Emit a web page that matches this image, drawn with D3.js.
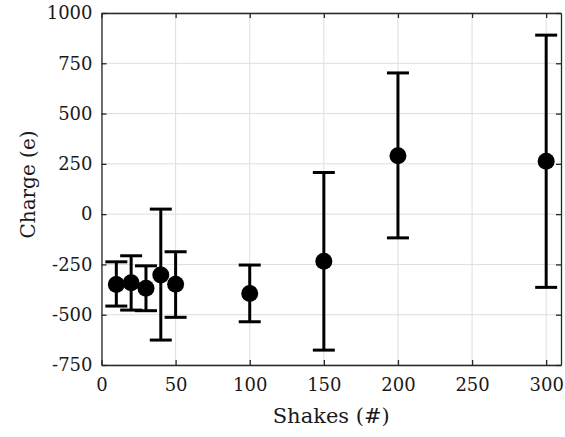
<!DOCTYPE html>
<html>
<head>
<meta charset="utf-8">
<script src="https://cdn.jsdelivr.net/npm/d3@7"></script>
<style>
  body { margin: 0; background: #fff; }
  svg text { font-family: "DejaVu Serif", serif; }
</style>
</head>
<body>
<div id="chart"></div>
<script>
// data
var shakes = [10, 20, 30, 40, 50, 100, 150, 200, 300];
var charge = [-350, -341, -369, -303, -348, -394, -234, 290, 263];
var upper  = [-237, -207, -257, 25, -187, -253, 207, 702, 890];
var lower  = [-457, -477, -480, -626, -513, -535, -676, -118, -364];
var xTicks = [0, 50, 100, 150, 200, 250, 300];
var yTicks = [-750, -500, -250, 0, 250, 500, 750, 1000];

var W = 565, H = 437;
var margin = {top: 13, right: 4, bottom: 72, left: 101.5},
    width = W - margin.left - margin.right,
    height = H - margin.top - margin.bottom;

var svg = d3.select("#chart").append("svg")
  .attr("width", W)
  .attr("height", H);

var g = svg.append("g")
  .attr("transform", `translate(${margin.left}, ${margin.top})`);

var x = d3.scaleLinear().domain([0, 310]).range([0, width]);
var y = d3.scaleLinear().domain([-750, 1000]).range([height, 0]);

var data = shakes.map((s, i) => ({x: s, y: charge[i], hi: upper[i], lo: lower[i]}));

// grid
g.append("g").selectAll("line").data(xTicks).join("line")
  .attr("x1", d => x(d)).attr("x2", d => x(d))
  .attr("y1", 0).attr("y2", height)
  .attr("stroke", "#dedede").attr("stroke-width", 1);
g.append("g").selectAll("line").data(yTicks).join("line")
  .attr("y1", d => y(d)).attr("y2", d => y(d))
  .attr("x1", 0).attr("x2", width)
  .attr("stroke", "#dedede").attr("stroke-width", 1);

// axes (ticks inside, mirrored on top/right)
var tk = 5;
var fmt = d => String(d);
var bottomAxis = d3.axisBottom(x).tickValues(xTicks).tickFormat(fmt).tickSizeInner(-tk).tickSizeOuter(0).tickPadding(13);
var leftAxis = d3.axisLeft(y).tickValues(yTicks).tickFormat(fmt).tickSizeInner(-tk).tickSizeOuter(0).tickPadding(9);
var topAxis = d3.axisTop(x).tickValues(xTicks).tickSizeInner(-tk).tickSizeOuter(0).tickFormat("");
var rightAxis = d3.axisRight(y).tickValues(yTicks).tickSizeInner(-tk).tickSizeOuter(0).tickFormat("");

function styleAxis(sel) {
  sel.attr("font-family", null).attr("font-size", 18);
  sel.select(".domain").attr("stroke", "#262626").attr("stroke-width", 1.3);
  sel.selectAll(".tick line").attr("stroke", "#262626").attr("stroke-width", 1.3);
  sel.selectAll(".tick text").attr("fill", "#1a1a1a");
}

g.append("g").attr("transform", `translate(0, ${height})`).call(bottomAxis).call(styleAxis);
g.append("g").call(leftAxis).call(styleAxis);
g.append("g").call(topAxis).call(styleAxis);
g.append("g").attr("transform", `translate(${width}, 0)`).call(rightAxis).call(styleAxis);

// error bars
var cap = 11;
var bars = g.append("g").selectAll("g").data(data).join("g");
bars.append("line")
  .attr("x1", d => x(d.x)).attr("x2", d => x(d.x))
  .attr("y1", d => y(d.hi)).attr("y2", d => y(d.lo))
  .attr("stroke", "#000").attr("stroke-width", 3);
bars.append("line")
  .attr("x1", d => x(d.x) - cap).attr("x2", d => x(d.x) + cap)
  .attr("y1", d => y(d.hi)).attr("y2", d => y(d.hi))
  .attr("stroke", "#000").attr("stroke-width", 3);
bars.append("line")
  .attr("x1", d => x(d.x) - cap).attr("x2", d => x(d.x) + cap)
  .attr("y1", d => y(d.lo)).attr("y2", d => y(d.lo))
  .attr("stroke", "#000").attr("stroke-width", 3);

// markers
g.append("g").selectAll("circle").data(data).join("circle")
  .attr("cx", d => x(d.x)).attr("cy", d => y(d.y))
  .attr("r", 8.5).attr("fill", "#000");

// axis titles
g.append("text")
  .attr("x", width / 2).attr("y", height + 58)
  .attr("text-anchor", "middle").attr("font-size", 21).attr("fill", "#1a1a1a")
  .text("Shakes (#)");

g.append("text")
  .attr("transform", `translate(${35 - margin.left}, ${height / 2 - 4.5}) rotate(-90)`)
  .attr("text-anchor", "middle").attr("font-size", 20).attr("fill", "#1a1a1a")
  .text("Charge (e)");
</script>
</body>
</html>
